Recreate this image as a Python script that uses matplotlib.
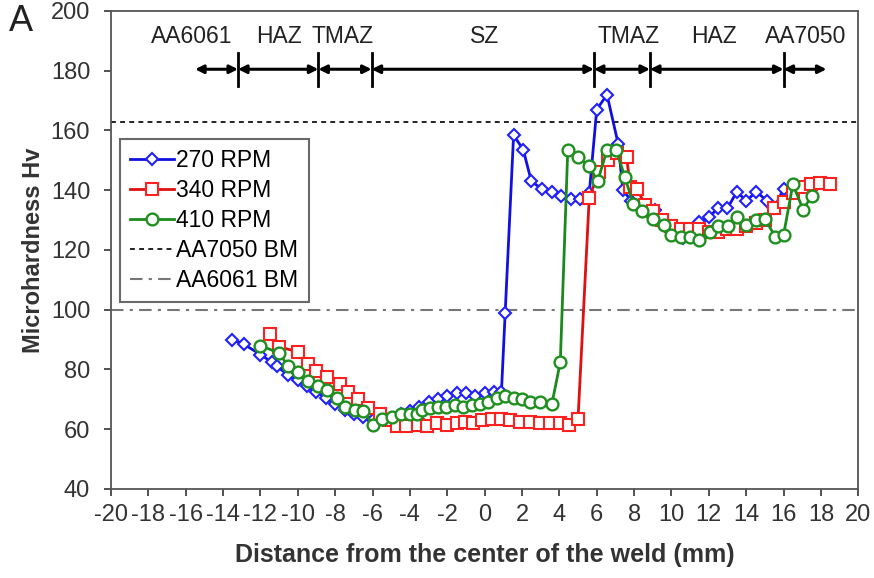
import matplotlib
matplotlib.use("Agg")
import matplotlib.pyplot as plt

plt.rcParams['font.family'] = ['Liberation Sans', 'DejaVu Sans']
plt.rcParams['axes.unicode_minus'] = False

# ── Hardness profiles (distance mm, Hv) ───────────────────────────────────────
x_270 = [-13.5, -12.9, -12.0, -11.4, -11.1, -10.5, -10.0, -9.5, -9.0, -8.5, -8.0,
         -7.5, -7.0, -6.5, -6.0, -5.5, -5.0, -4.5, -4.0, -3.5, -3.0, -2.5, -2.0,
         -1.5, -1.0, -0.5, 0.0, 0.5, 0.9, 1.1, 1.55, 2.07, 2.5, 3.05, 3.6, 4.1,
         4.6, 5.1, 5.6, 6.0, 6.55, 7.15, 7.4, 7.85, 8.5, 9.1, 9.6, 10.1, 10.6,
         11.0, 11.5, 12.0, 12.5, 13.0, 13.5, 14.0, 14.55, 15.1, 15.5, 16.0]
hv_270 = [90, 88.5, 85, 82.5, 81, 78, 76.5, 74.5, 72.5, 70.5, 68.5,
          66.5, 65, 64, 63, 63.5, 63.5, 65, 66, 67.5, 69, 70, 71,
          72, 72, 71, 72, 72.5, 72.5, 99, 158.5, 153.5, 143, 140.5, 139.5, 138,
          137, 137, 139, 167, 172, 155.5, 140, 136.5, 134, 133.5, 129, 125.5, 124,
          125, 129.5, 131, 134, 134, 139.5, 136.5, 139.5, 136.5, 134, 140.5]

x_340 = [-11.5, -11.0, -10.0, -9.45, -9.0, -8.45, -7.75, -7.3, -6.8, -6.25, -5.6,
         -5.1, -4.7, -4.2, -3.55, -3.1, -2.55, -2.0, -1.5, -1.05, -0.6, -0.15,
         0.4, 0.9, 1.35, 1.9, 2.45, 2.95, 3.5, 4.05, 4.5, 5.0, 5.6, 6.1, 6.6,
         7.1, 7.6, 7.8, 8.15, 8.6, 9.0, 9.5, 10.0, 10.5, 11.0, 11.5, 12.0, 12.5,
         13.0, 13.5, 14.0, 14.5, 15.0, 15.5, 16.0, 16.5, 17.0, 17.45, 17.95, 18.5]
hv_340 = [92, 87.5, 86, 82, 79.5, 77.5, 75, 72.5, 70, 67, 65,
          63, 61, 61, 61.5, 61, 62, 61.5, 62, 62.5, 62, 63,
          63.5, 63.5, 63, 62.5, 62.5, 62, 62, 62, 61.5, 63.5, 137.5, 146, 150,
          152.5, 151, 141, 140.5, 135, 133, 130, 128, 127, 127, 127, 126, 126,
          127, 127, 128, 129, 130, 134, 136, 139, 141, 142, 142.5, 142]

x_410 = [-12.0, -11.0, -10.5, -10.0, -9.45, -8.9, -8.45, -7.9, -7.45, -6.95, -6.5,
         -5.95, -5.5, -4.95, -4.45, -4.0, -3.6, -3.35, -2.9, -2.5, -2.05, -1.6,
         -1.15, -0.7, -0.25, 0.2, 0.65, 1.1, 1.55, 2.0, 2.45, 2.95, 3.6, 4.05,
         4.45, 5.0, 5.6, 6.05, 6.55, 7.05, 7.5, 7.95, 8.4, 9.0, 9.6, 10.0, 10.5,
         11.0, 11.5, 12.05, 12.5, 13.05, 13.5, 14.0, 14.55, 15.0, 15.55, 16.0,
         16.5, 17.05, 17.5]
hv_410 = [88, 85.5, 81, 79, 76, 74.5, 73, 70.5, 67.5, 66.5, 66,
          61.5, 63.5, 64, 65, 65, 65, 66.5, 67, 67.5, 67.5, 68,
          67.5, 68, 68.5, 69, 70.5, 71, 70.5, 70, 69, 69, 68.5, 82.5,
          153.5, 151, 148, 143, 153.5, 153.5, 144.5, 135.5, 133, 130.5, 128.5, 125, 124.5,
          124.5, 123.5, 126, 128, 128, 131, 128.5, 130, 130.5, 124.5, 125,
          142, 133.5, 138]

# base metal reference hardness
bm_7050 = 163
bm_6061 = 100

# weld zones: boundaries, label positions, labels
zone_edges = [-15.5, -13.2, -8.9, -6.05, 5.85, 8.85, 16.0, 18.3]
zone_label_x = [-15.7, -11.0, -7.6, 0.0, 7.7, 12.3, 17.2]
zone_labels = ['AA6061', 'HAZ', 'TMAZ', 'SZ', 'TMAZ', 'HAZ', 'AA7050']

fig = plt.figure(figsize=(8.74, 5.78), dpi=100)
ax = fig.add_axes([0.127, 0.154, 0.855, 0.827])

ax.axhline(bm_7050, color='#222222', linestyle=(0, (2.5, 2.2)), linewidth=1.4,
           label='AA7050 BM')
ax.axhline(bm_6061, color='#777777', linestyle=(0, (6, 3, 1.5, 3)), linewidth=1.5,
           label='AA6061 BM')

ax.plot(x_270, hv_270, color='#1010e0', lw=2, marker='D', ms=6.5, mfc='white',
        mec='#2020ff', mew=1.5, label='270 RPM', zorder=3)
ax.plot(x_340, hv_340, color='#e01010', lw=2, marker='s', ms=8.5, mfc='white',
        mec='#ff2020', mew=1.5, label='340 RPM', zorder=3)
ax.plot(x_410, hv_410, color='#1a8a1a', lw=2, marker='o', ms=8.5, mfc='white',
        mec='#1f8f1f', mew=1.7, label='410 RPM', zorder=4)

# zone arrows along the top
arrow_y = 180.5
for a, b in zip(zone_edges[:-1], zone_edges[1:]):
    ax.annotate('', xy=(b, arrow_y), xytext=(a, arrow_y),
                arrowprops=dict(arrowstyle='<|-|>', color='black', lw=2.2,
                                mutation_scale=12, shrinkA=0, shrinkB=0))
for e in zone_edges[1:-1]:
    ax.plot([e, e], [175, 186], color='black', lw=2)
for lx, lab in zip(zone_label_x, zone_labels):
    ax.text(lx, 191.5, lab, ha='center', va='center', fontsize=16.5, color='#222222')

ax.set_xlim(-20, 20)
ax.set_ylim(40, 200)
ax.set_xticks(range(-20, 21, 2))
ax.set_yticks(range(40, 201, 20))
ax.tick_params(labelsize=17, colors='#333333', length=5, width=1.2, pad=6)
ax.tick_params(axis='y', pad=10)
for s in ax.spines.values():
    s.set_color('#555555')
    s.set_linewidth(1.3)

ax.set_xlabel('Distance from the center of the weld (mm)', fontsize=18,
              fontweight='bold', color='#333333', labelpad=12)
ax.set_ylabel('Microhardness Hv', fontsize=17, fontweight='bold',
              color='#333333', labelpad=4)

h, l = ax.get_legend_handles_labels()
order = [2, 3, 4, 0, 1]
leg = ax.legend([h[i] for i in order], [l[i] for i in order],
                loc='upper left', bbox_to_anchor=(0.012, 0.732), fontsize=16.5,
                frameon=True, fancybox=False, edgecolor='#444444',
                handlelength=1.9, handletextpad=0.1, labelspacing=0.3,
                borderpad=0.45, borderaxespad=0)
leg.get_frame().set_linewidth(1.5)

fig.text(0.01, 0.962, 'A', fontsize=26, color='#222222', va='center')

fig.savefig('out.png', dpi=100)
